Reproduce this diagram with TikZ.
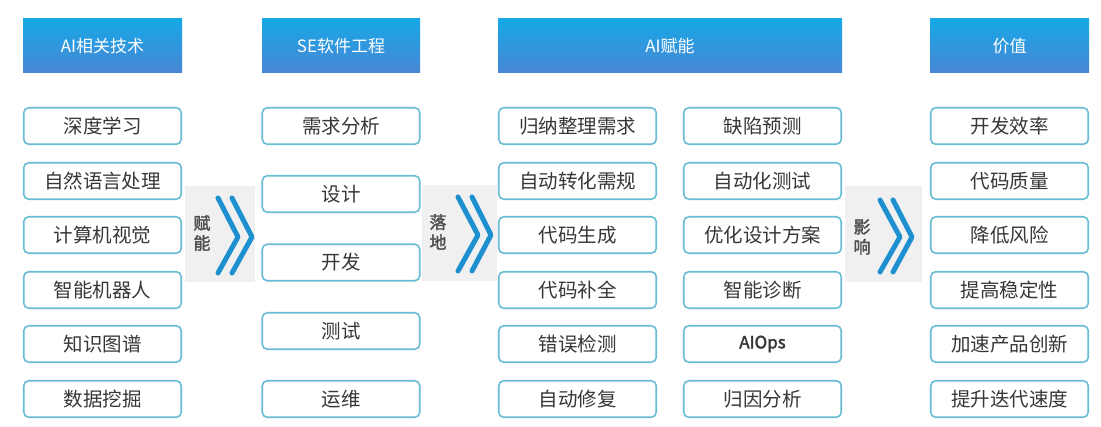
\documentclass[tikz,border=0pt]{standalone}
\usepackage{fontspec}
\setmainfont{Noto Sans CJK SC}[AutoFakeBold=2]
\definecolor{headtop}{RGB}{22,168,230}
\definecolor{headbot}{RGB}{74,134,212}
\definecolor{boxline}{RGB}{104,188,212}
\definecolor{boxtext}{RGB}{55,55,55}
\definecolor{panelgray}{RGB}{240,240,240}
\definecolor{chev}{RGB}{30,144,208}
\definecolor{paneltext}{RGB}{80,80,80}
\begin{document}
\begin{tikzpicture}[x=1pt,y=-1pt,
  head/.style={top color=headtop,bottom color=headbot,draw=none,minimum height=54pt,text=white,font=\fontsize{17}{17}\selectfont,inner sep=0pt},
  item/.style={draw=boxline,line width=1.6pt,fill=white,rounded corners=5pt,minimum width=157.5pt,minimum height=36.5pt,text=boxtext,font=\fontsize{19.5}{20}\selectfont,inner sep=0pt},
  panel/.style={fill=panelgray,draw=none,inner sep=0pt},
  chevron/.style={draw=chev,line width=5pt,line cap=round,line join=round},
  ptext/.style={text=paneltext,font=\bfseries\fontsize{17}{20}\selectfont,align=center,inner sep=0pt}]
\fill[white] (0,0) rectangle (1101,427);
\useasboundingbox (0,0) rectangle (1101,427);

% headers
\node[head,minimum width=159pt] (h1) at (102.5,46) {AI相关技术};
\node[head,minimum width=158pt] (h2) at (341,46) {SE软件工程};
\node[head,minimum width=344pt] (h3) at (670,46) {AI赋能};
\node[head,minimum width=159pt] (h4) at (1009.5,46) {价值};

% panels
\node[panel,minimum width=70pt,minimum height=96pt] (p1) at (220,234) {};
\node[panel,minimum width=75pt,minimum height=96pt] (p2) at (459.5,233) {};
\node[panel,minimum width=77pt,minimum height=96pt] (p3) at (883.5,234) {};
\node[ptext] (t1) at (202,233) {赋\\能};
\node[ptext] (t2) at (438,232) {落\\地};
\node[ptext] (t3) at (862,237) {影\\响};
\draw[chevron] (218,198) -- (238,237) -- (218,273);
\draw[chevron] (232,198) -- (252,237) -- (232,273);
\draw[chevron] (458,197) -- (478,235) -- (458,271);
\draw[chevron] (472,197) -- (491,235) -- (472,271);
\draw[chevron] (880,200) -- (900,237) -- (880,272);
\draw[chevron] (893,200) -- (912,237) -- (893,272);

% column 1
\node[item] (a1) at (102.5,126) {深度学习};
\node[item] (a2) at (102.5,181) {自然语言处理};
\node[item] (a3) at (102.5,235) {计算机视觉};
\node[item] (a4) at (102.5,290) {智能机器人};
\node[item] (a5) at (102.5,344) {知识图谱};
\node[item] (a6) at (102.5,399) {数据挖掘};

% column 2
\node[item] (b1) at (341,126) {需求分析};
\node[item] (b2) at (341,194) {设计};
\node[item] (b3) at (341,262.5) {开发};
\node[item] (b4) at (341,331) {测试};
\node[item] (b5) at (341,399) {运维};

% column 3
\node[item] (c1) at (577.5,126) {归纳整理需求};
\node[item] (c2) at (577.5,181) {自动转化需规};
\node[item] (c3) at (577.5,235) {代码生成};
\node[item] (c4) at (577.5,290) {代码补全};
\node[item] (c5) at (577.5,344) {错误检测};
\node[item] (c6) at (577.5,399) {自动修复};
\node[item] (d1) at (762.5,126) {缺陷预测};
\node[item] (d2) at (762.5,181) {自动化测试};
\node[item] (d3) at (762.5,235) {优化设计方案};
\node[item] (d4) at (762.5,290) {智能诊断};
\node[item,font=\bfseries\fontsize{17}{20}\selectfont] (d5) at (762.5,344) {AIOps};
\node[item] (d6) at (762.5,399) {归因分析};

% column 4
\node[item] (e1) at (1009.5,126) {开发效率};
\node[item] (e2) at (1009.5,181) {代码质量};
\node[item] (e3) at (1009.5,235) {降低风险};
\node[item] (e4) at (1009.5,290) {提高稳定性};
\node[item] (e5) at (1009.5,344) {加速产品创新};
\node[item] (e6) at (1009.5,399) {提升迭代速度};
\end{tikzpicture}
\end{document}
